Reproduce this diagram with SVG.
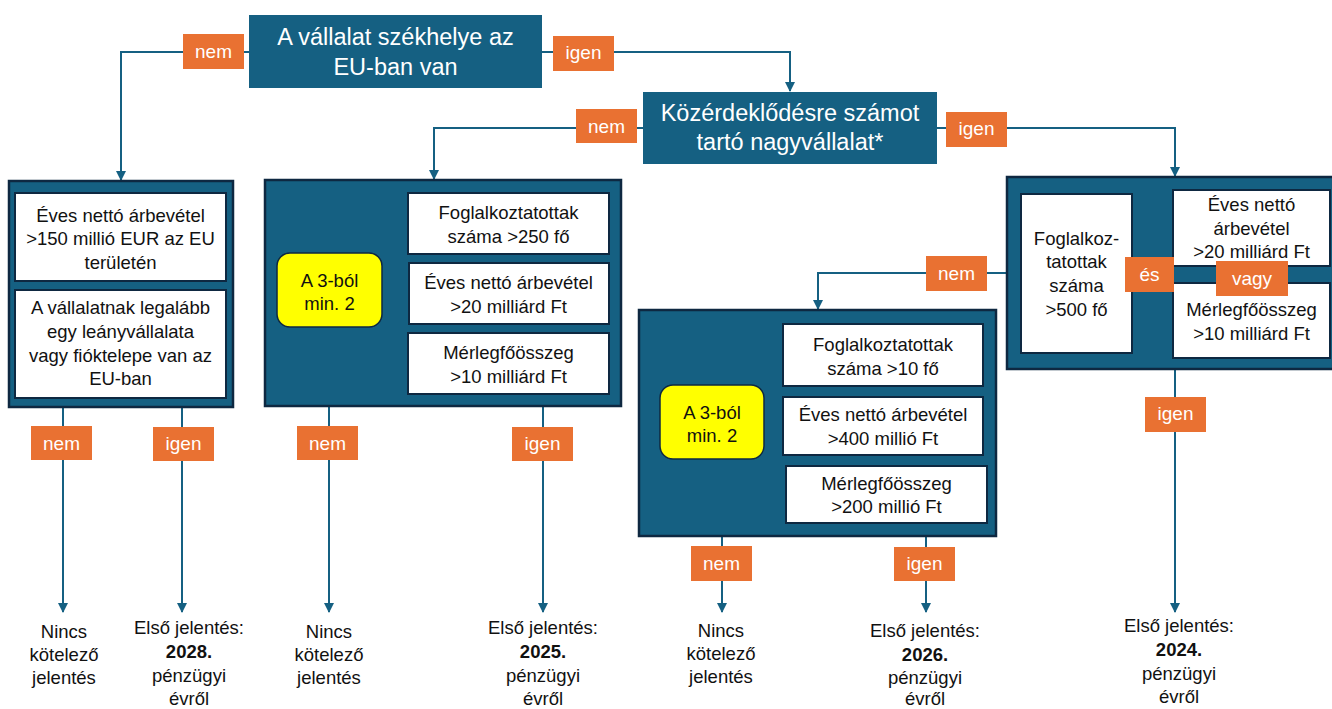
<svg xmlns="http://www.w3.org/2000/svg" width="1332" height="709" viewBox="0 0 1332 709">
<style>
text{font-family:"Liberation Sans",Arial,sans-serif;text-anchor:middle;}
.dec{fill:#156082;}
.dect{fill:#fff;font-size:23.5px;}
.outer{fill:#156082;stroke:#0E2841;stroke-width:2.5;}
.inner{fill:#fff;stroke:#0E2841;stroke-width:2;}
.yel{fill:#FFFF00;stroke:#0E2841;stroke-width:1.5;}
.t{font-size:18.5px;fill:#111;}
.lab{fill:#E97132;}
.labt{font-size:19px;fill:#fff;}
.out{font-size:18.5px;fill:#111;}
.b{font-weight:bold;}
.con{fill:none;stroke:#156082;stroke-width:2;}
</style>
<defs>
<marker id="arr" markerUnits="userSpaceOnUse" markerWidth="10" markerHeight="10" viewBox="0 0 10 10" refX="9" refY="5" orient="auto">
<path d="M0,0 L10,5 L0,10 z" fill="#156082"/>
</marker>
</defs>

<g id="connectors">
<path class="con" d="M249,52 H121 V180" marker-end="url(#arr)"/>
<path class="con" d="M542,52 H790 V91" marker-end="url(#arr)"/>
<path class="con" d="M643,128 H434 V179" marker-end="url(#arr)"/>
<path class="con" d="M937,128 H1175 V176" marker-end="url(#arr)"/>
<path class="con" d="M1007,273 H818 V309" marker-end="url(#arr)"/>
<path class="con" d="M63,407 V612" marker-end="url(#arr)"/>
<path class="con" d="M182,407 V612" marker-end="url(#arr)"/>
<path class="con" d="M329,406 V612" marker-end="url(#arr)"/>
<path class="con" d="M543,406 V612" marker-end="url(#arr)"/>
<path class="con" d="M722,536 V612" marker-end="url(#arr)"/>
<path class="con" d="M926,536 V612" marker-end="url(#arr)"/>
<path class="con" d="M1175,369 V612" marker-end="url(#arr)"/>
</g>

<g id="labels">
<rect class="lab" x="183" y="34" width="61" height="35"/><text class="labt" x="213.5" y="58">nem</text>
<rect class="lab" x="553" y="36" width="61" height="35"/><text class="labt" x="583.5" y="59">igen</text>
<rect class="lab" x="576" y="109" width="61" height="34"/><text class="labt" x="606.5" y="132.5">nem</text>
<rect class="lab" x="946" y="112" width="61" height="35"/><text class="labt" x="976.5" y="135">igen</text>
<rect class="lab" x="926" y="256" width="61" height="35"/><text class="labt" x="956.5" y="280">nem</text>
<rect class="lab" x="31" y="426" width="61" height="34"/><text class="labt" x="61.5" y="449.5">nem</text>
<rect class="lab" x="153" y="427" width="61" height="34"/><text class="labt" x="183.5" y="449.5">igen</text>
<rect class="lab" x="297" y="426" width="61" height="34"/><text class="labt" x="327.5" y="449.5">nem</text>
<rect class="lab" x="512" y="427" width="61" height="34"/><text class="labt" x="542.5" y="449.5">igen</text>
<rect class="lab" x="691" y="546" width="61" height="35"/><text class="labt" x="721.5" y="570">nem</text>
<rect class="lab" x="894" y="547" width="61" height="34"/><text class="labt" x="924.5" y="569.5">igen</text>
<rect class="lab" x="1145" y="397" width="61" height="35"/><text class="labt" x="1175.5" y="420">igen</text>
</g>

<g id="hq">
<rect class="dec" x="249" y="15" width="293" height="73"/>
<text class="dect" x="395.5" y="45">A vállalat székhelye az</text>
<text class="dect" x="395.5" y="75">EU-ban van</text>
</g>

<g id="pie">
<rect class="dec" x="643" y="92" width="294" height="72"/>
<text class="dect" x="790" y="121">Közérdeklődésre számot</text>
<text class="dect" x="790" y="150">tartó nagyvállalat*</text>
</g>

<g id="nonEU">
<rect class="outer" x="9" y="181" width="224" height="226"/>
<rect class="inner" x="15" y="193" width="211" height="88"/>
<text class="t" x="120.5" y="221.5">Éves nettó árbevétel</text>
<text class="t" x="120.5" y="245">&gt;150 millió EUR az EU</text>
<text class="t" x="120.5" y="268.5">területén</text>
<rect class="inner" x="15" y="290" width="211" height="108"/>
<text class="t" x="120.5" y="313.5">A vállalatnak legalább</text>
<text class="t" x="120.5" y="337.5">egy leányvállalata</text>
<text class="t" x="120.5" y="361.5">vagy fióktelepe van az</text>
<text class="t" x="120.5" y="384.5">EU-ban</text>
</g>

<g id="large">
<rect class="outer" x="265" y="180" width="356" height="226"/>
<rect class="yel" x="277" y="253" width="105" height="74" rx="13"/>
<text class="t" x="329.5" y="286.5">A 3-ból</text>
<text class="t" x="329.5" y="309.5">min. 2</text>
<rect class="inner" x="408" y="193" width="201" height="61"/>
<text class="t" x="508.5" y="218.5">Foglalkoztatottak</text>
<text class="t" x="508.5" y="242.5">száma &gt;250 fő</text>
<rect class="inner" x="409" y="263" width="200" height="61"/>
<text class="t" x="508.5" y="288.5">Éves nettó árbevétel</text>
<text class="t" x="508.5" y="312.5">&gt;20 milliárd Ft</text>
<rect class="inner" x="408" y="333" width="201" height="61"/>
<text class="t" x="508.5" y="359">Mérlegfőösszeg</text>
<text class="t" x="508.5" y="382.5">&gt;10 milliárd Ft</text>
</g>

<g id="small">
<rect class="outer" x="639" y="310" width="357" height="226"/>
<rect class="yel" x="660" y="385" width="104" height="74" rx="13"/>
<text class="t" x="712" y="418.5">A 3-ból</text>
<text class="t" x="712" y="441.5">min. 2</text>
<rect class="inner" x="783" y="324" width="200" height="62"/>
<text class="t" x="883" y="350.5">Foglalkoztatottak</text>
<text class="t" x="883" y="374.5">száma &gt;10 fő</text>
<rect class="inner" x="783" y="397" width="200" height="58"/>
<text class="t" x="883" y="421">Éves nettó árbevétel</text>
<text class="t" x="883" y="444.5">&gt;400 millió Ft</text>
<rect class="inner" x="786" y="466" width="201" height="57"/>
<text class="t" x="886.5" y="489.5">Mérlegfőösszeg</text>
<text class="t" x="886.5" y="513">&gt;200 millió Ft</text>
</g>

<g id="pieLarge">
<rect class="outer" x="1007" y="177" width="328" height="192"/>
<rect class="inner" x="1021" y="194" width="111" height="159"/>
<text class="t" x="1076.5" y="244.5">Foglalkoz-</text>
<text class="t" x="1076.5" y="268">tatottak</text>
<text class="t" x="1076.5" y="291.5">száma</text>
<text class="t" x="1076.5" y="316">&gt;500 fő</text>
<rect class="inner" x="1173" y="190" width="157" height="76"/>
<text class="t" x="1251.5" y="211">Éves nettó</text>
<text class="t" x="1251.5" y="234.5">árbevétel</text>
<text class="t" x="1251.5" y="258">&gt;20 milliárd Ft</text>
<rect class="inner" x="1173" y="283" width="157" height="75"/>
<text class="t" x="1251.5" y="316">Mérlegfőösszeg</text>
<text class="t" x="1251.5" y="339.5">&gt;10 milliárd Ft</text>
<rect class="lab" x="1125" y="257" width="49" height="35"/><text class="labt" x="1149.5" y="280.5">és</text>
<rect class="lab" x="1216" y="261" width="72" height="35"/><text class="labt" x="1252" y="284.5">vagy</text>
</g>

<g id="out1">
<text class="out" x="64" y="638">Nincs</text>
<text class="out" x="64" y="661">kötelező</text>
<text class="out" x="64" y="684">jelentés</text>
</g>
<g id="out2">
<text class="out" x="189" y="634">Első jelentés:</text>
<text class="out b" x="189" y="658">2028.</text>
<text class="out" x="189" y="682">pénzügyi</text>
<text class="out" x="189" y="705">évről</text>
</g>
<g id="out3">
<text class="out" x="329" y="638">Nincs</text>
<text class="out" x="329" y="661">kötelező</text>
<text class="out" x="329" y="684">jelentés</text>
</g>
<g id="out4">
<text class="out" x="543" y="634">Első jelentés:</text>
<text class="out b" x="543" y="658">2025.</text>
<text class="out" x="543" y="682">pénzügyi</text>
<text class="out" x="543" y="705">évről</text>
</g>
<g id="out5">
<text class="out" x="721" y="637">Nincs</text>
<text class="out" x="721" y="660">kötelező</text>
<text class="out" x="721" y="683">jelentés</text>
</g>
<g id="out6">
<text class="out" x="925" y="637">Első jelentés:</text>
<text class="out b" x="925" y="661">2026.</text>
<text class="out" x="925" y="684">pénzügyi</text>
<text class="out" x="925" y="705">évről</text>
</g>
<g id="out7">
<text class="out" x="1179" y="632">Első jelentés:</text>
<text class="out b" x="1179" y="656">2024.</text>
<text class="out" x="1179" y="680">pénzügyi</text>
<text class="out" x="1179" y="703">évről</text>
</g>
</svg>
